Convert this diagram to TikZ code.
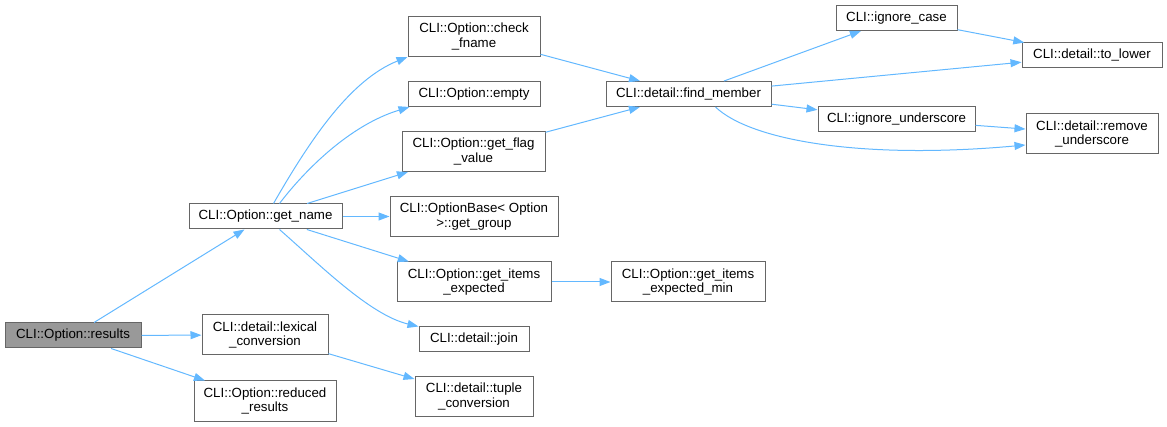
\documentclass[tikz,border=0pt]{standalone}
\usepackage{fontspec}
\setmainfont{Liberation Sans}
\usetikzlibrary{arrows.meta}

\definecolor{nodeborder}{HTML}{666666}
\definecolor{rootfill}{HTML}{999999}
\definecolor{edgeblue}{HTML}{63B8FF}

\begin{document}
\begin{tikzpicture}[x=1pt, y=-1pt,
    fn/.style={draw=nodeborder, fill=white, line width=1pt, inner sep=0pt,
        minimum height=25pt, align=center,
        font=\fontsize{13.3}{14.7}\selectfont},
    tall/.style={minimum height=40pt},
    call/.style={draw=edgeblue, line width=1pt,
        -{Triangle[length=11pt, width=8pt]}}]
\useasboundingbox (0,0) rectangle (1167,427);

% caller
\node[fn, fill=rootfill, minimum width=136pt] (results) at (73,335.5) {CLI::Option::results};

% first level
\node[fn, minimum width=153pt] (getname) at (265.5,216.5) {CLI::Option::get\_name};
\node[fn, tall, minimum width=126pt] (lexconv) at (265,335) {CLI::detail::lexical\\\_conversion};
\node[fn, tall, minimum width=142pt] (reduced) at (265,401) {CLI::Option::reduced\\\_results};

% second level
\node[fn, tall, minimum width=132pt] (checkfname) at (474,36.5) {CLI::Option::check\\\_fname};
\node[fn, minimum width=132pt] (empty) at (474,94) {CLI::Option::empty};
\node[fn, tall, minimum width=143pt] (flagvalue) at (473.5,151.5) {CLI::Option::get\_flag\\\_value};
\node[fn, tall, minimum width=168pt] (getgroup) at (474,216.5) {CLI::OptionBase< Option\\>::get\_group};
\node[fn, tall, minimum width=154pt] (itemsexp) at (474,282) {CLI::Option::get\_items\\\_expected};
\node[fn, minimum width=110pt] (join) at (474,339.5) {CLI::detail::join};
\node[fn, tall, minimum width=118pt] (tupleconv) at (474,396.5) {CLI::detail::tuple\\\_conversion};

% third level
\node[fn, minimum width=165pt] (findmember) at (688.5,94) {CLI::detail::find\_member};
\node[fn, tall, minimum width=154pt] (itemsmin) at (688,282) {CLI::Option::get\_items\\\_expected\_min};

% fourth level
\node[fn, minimum width=121pt] (ignorecase) at (896.5,18) {CLI::ignore\_case};
\node[fn, minimum width=157pt] (ignoreunder) at (896.5,119.5) {CLI::ignore\_underscore};

% fifth level
\node[fn, minimum width=140pt] (tolower) at (1092,55.5) {CLI::detail::to\_lower};
\node[fn, tall, minimum width=132pt] (removeunder) at (1092,134) {CLI::detail::remove\\\_underscore};

% calls
\draw[call] (results) -- (getname);
\draw[call] (results) -- (lexconv);
\draw[call] (results) -- (reduced);

\draw[call] ([xshift=8pt]getname.north) .. controls (310,140) and (350,80) .. (checkfname.south west);
\draw[call] ([xshift=14pt]getname.north) .. controls (305,170) and (350,125) .. ([xshift=2pt]empty.south west);
\draw[call] (getname) -- (flagvalue);
\draw[call] (getname) -- (getgroup);
\draw[call] (getname) -- (itemsexp);
\draw[call] ([xshift=14pt]getname.south) .. controls (320,265) and (370,315) .. (join.north west);
\draw[call] (lexconv) -- (tupleconv);

\draw[call] (checkfname) -- (findmember);
\draw[call] (flagvalue) -- (findmember);
\draw[call] (itemsexp) -- (itemsmin);

\draw[call] (findmember) -- (ignorecase);
\draw[call] (findmember) -- (tolower);
\draw[call] (findmember) -- (ignoreunder);
\draw[call] ([xshift=27pt]findmember.south) .. controls (750,140) and (860,160) .. ([yshift=-11pt]removeunder.west);
\draw[call] (ignorecase) -- (tolower);
\draw[call] (ignoreunder) -- (removeunder);
\end{tikzpicture}
\end{document}
